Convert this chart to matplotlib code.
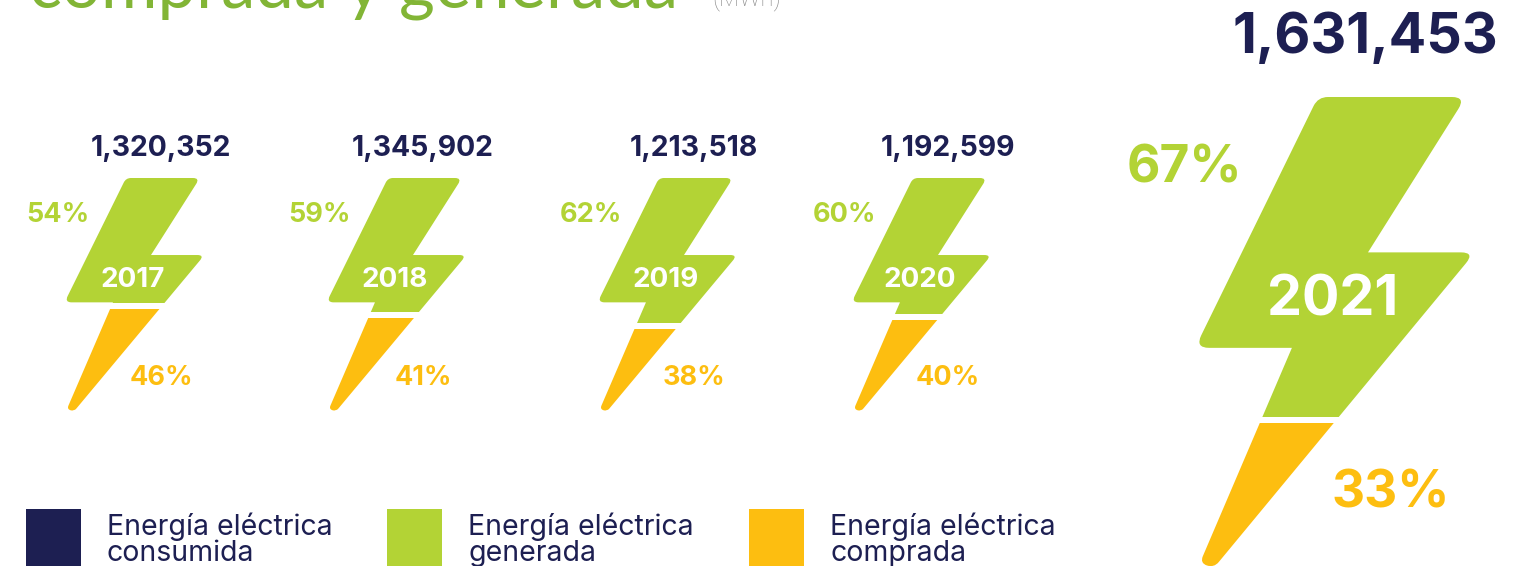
import matplotlib
matplotlib.use('Agg')
import matplotlib.pyplot as plt
from matplotlib.patches import PathPatch, Rectangle
from matplotlib.path import Path
import numpy as np

plt.rcParams['font.family'] = ['Inter', 'DejaVu Sans']

GREEN = '#B3D335'
ORANGE = '#FDBE10'
NAVY = '#1D1F52'

# data
years = ['2017', '2018', '2019', '2020', '2021']
totals = ['1,320,352', '1,345,902', '1,213,518', '1,192,599', '1,631,453']
generated = [54, 59, 62, 60, 67]
purchased = [46, 41, 38, 40, 33]
# where the white cut sits, as part of the bolt height
cut_level = [0.55, 0.59, 0.64, 0.60, 0.69]

legend_labels = ['Energía eléctrica\nconsumida', 'Energía eléctrica\ngenerada', 'Energía eléctrica\ncomprada']
legend_colors = [NAVY, GREEN, ORANGE]

# bolt outline in 0-1 units, with corner radius
outline = [(0.436, 0.0, 5), (0.992, 0.0, 7), (0.624, 0.332, 0), (1.026, 0.332, 7),
           (0.045, 1.006, 4), (-0.008, 0.996, 4), (0.338, 0.536, 0), (-0.026, 0.536, 7)]


def bolt_path(left, top, w, h, scale):
    pts = np.array([[left + x*w, top + y*h] for x, y, r in outline])
    verts, codes = [], []
    n = len(pts)
    for i in range(n):
        p = pts[i]
        r = outline[i][2]*scale
        a = pts[i-1] - p
        b = pts[(i+1) % n] - p
        r = min(r, np.linalg.norm(a)/2, np.linalg.norm(b)/2)
        p1 = p + a/np.linalg.norm(a)*r
        p2 = p + b/np.linalg.norm(b)*r
        verts.append(p1)
        codes.append(Path.MOVETO if i == 0 else Path.LINETO)
        verts += [p, p2]
        codes += [Path.CURVE3, Path.CURVE3]
    verts.append(verts[0])
    codes.append(Path.CLOSEPOLY)
    return Path(verts, codes)


fig = plt.figure(figsize=(15.38, 5.66), dpi=100)
ax = fig.add_axes([0, 0, 1, 1])
ax.set_xlim(0, 1538)
ax.set_ylim(566, 0)
ax.axis('off')

# title is cut by the top of the page
ax.text(29, 8, 'comprada y generada', fontsize=49.6, color='#82B536', family='Lato',
        ha='left', va='baseline')
ax.text(712, 5, '(MWh)', fontsize=17, color='#8A8A8A', family='Roboto',
        fontweight='light', ha='left', va='baseline')

lefts = [68, 330, 601, 855, 1202]
for i, year in enumerate(years):
    big = i == 4
    s = 2 if big else 1
    w, h = 133*s, (468 if big else 232)
    top = 97 if big else 178
    left = lefts[i]
    cut = top + cut_level[i]*h
    gap = 3

    path = bolt_path(left, top, w, h, s)
    part = PathPatch(path, facecolor=GREEN, edgecolor='none')
    ax.add_patch(part)
    part.set_clip_path(Rectangle((left-10, top-5), w+20, cut-gap-top+5, transform=ax.transData))
    part = PathPatch(path, facecolor=ORANGE, edgecolor='none')
    ax.add_patch(part)
    part.set_clip_path(Rectangle((left-10, cut+gap), w+20, h, transform=ax.transData))

    if big:
        ax.text(1365, 38, totals[i], fontsize=40, fontweight='bold', color=NAVY, ha='center', va='center')
        ax.text(1184, 169, f'{generated[i]}%', fontsize=37, fontweight='bold', color=GREEN, ha='center', va='center')
        ax.text(1391, 494, f'{purchased[i]}%', fontsize=37, fontweight='bold', color=ORANGE, ha='center', va='center')
        ax.text(1333, 301, year, fontsize=40, fontweight='bold', color='white', ha='center', va='center')
    else:
        ax.text(left+93, 148, totals[i], fontsize=20.4, fontweight='bold', color=NAVY, ha='center', va='center')
        ax.text(left-10, 215, f'{generated[i]}%', fontsize=19.5, fontweight='bold', color=GREEN, ha='center', va='center')
        ax.text(left+93, 378, f'{purchased[i]}%', fontsize=19.5, fontweight='bold', color=ORANGE, ha='center', va='center')
        ax.text(left+65, 280, year, fontsize=20, fontweight='bold', color='white', ha='center', va='center')

# legend along the bottom
for x, label, color in zip([26, 387, 749], legend_labels, legend_colors):
    ax.add_patch(Rectangle((x, 509), 55, 57, facecolor=color, edgecolor='none'))
    ax.text(x+81, 540, label, fontsize=20.5, color=NAVY, ha='left', va='center', linespacing=0.95)

fig.savefig('out.png', dpi=100)
